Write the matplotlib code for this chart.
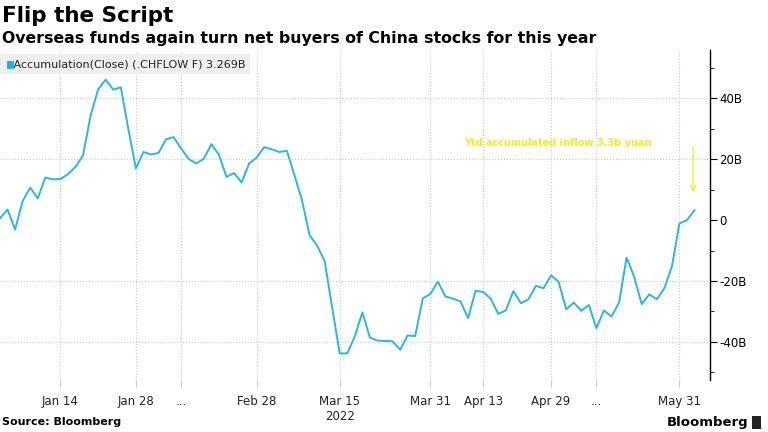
import numpy as np
import matplotlib.pyplot as plt
from matplotlib.ticker import FuncFormatter, MultipleLocator
from matplotlib.patches import Rectangle

# Northbound accumulated flow, one value per trading day (billions of yuan)
flow = [0.6, 3.5, -3.1, 6.3, 10.7, 7.1, 14.0, 13.4, 13.5, 15.1,
        17.5, 21.3, 34.4, 43.0, 46.2, 42.9, 43.7, 30.0, 17.0, 22.4,
        21.6, 22.1, 26.6, 27.3, 23.5, 20.1, 18.6, 20.2, 25.0, 21.5,
        14.2, 15.5, 12.4, 18.6, 20.6, 24.0, 23.3, 22.4, 22.8, 14.8,
        6.6, -4.9, -8.4, -13.4, -28.7, -43.8, -43.8, -38.2, -30.3, -38.6,
        -39.6, -39.7, -39.8, -42.6, -37.9, -38.1, -25.7, -24.3, -20.2, -25.1,
        -25.8, -26.7, -32.2, -23.2, -23.6, -25.8, -30.8, -29.7, -23.3, -27.3,
        -26.0, -21.6, -22.4, -18.1, -20.3, -29.3, -27.1, -29.8, -27.9, -35.5,
        -29.7, -31.7, -27.1, -12.3, -18.6, -27.6, -24.4, -26.0, -22.4, -15.3,
        -1.1, 0.0, 3.269]

tick_pos = [8, 18, 24, 34, 45, 57, 64, 73, 79, 90]
tick_labels = ['Jan 14', 'Jan 28', '...', 'Feb 28', 'Mar 15\n2022',
               'Mar 31', 'Apr 13', 'Apr 29', '...', 'May 31']
y_ticks = [-40, -20, 0, 20, 40]

line_color = '#2cb4e4'
ann_color = '#f2ec1c'

plt.rcParams['font.family'] = ['DejaVu Sans']

fig = plt.figure(figsize=(7.68, 4.32), dpi=100)
ax = fig.add_axes([0.0, 0.12, 0.924, 0.764])

x = np.arange(len(flow))
ax.plot(x, flow, color=line_color, linewidth=1.4)

ax.set_xlim(0, 94)
ax.set_ylim(-52.6, 55.9)

# x axis
ax.set_xticks(tick_pos)
ax.set_xticklabels(tick_labels, fontsize=8.5, color='#222222')
ax.tick_params(axis='x', length=5, color='#cccccc', pad=6)

# y axis on the right
ax.yaxis.tick_right()
ax.set_yticks(y_ticks)
ax.yaxis.set_minor_locator(MultipleLocator(10))
ax.yaxis.set_major_formatter(FuncFormatter(lambda v, p: '0' if v == 0 else f'{v:.0f}B'))
ax.tick_params(axis='y', which='major', length=5, color='black', labelsize=8.5, pad=2)
ax.tick_params(axis='y', which='minor', length=3, color='black')

for s in ['left', 'top', 'bottom']:
    ax.spines[s].set_visible(False)
ax.spines['right'].set_color('black')
ax.spines['right'].set_linewidth(1.0)

# dotted grid, no line at zero
ax.grid(True, which='major', linestyle=':', color='#c8c8c8', linewidth=0.8)
ax.yaxis.get_gridlines()[2].set_visible(False)
ax.set_axisbelow(True)

# legend box
ax.text(0.004, 0.972, '   Accumulation(Close) (.CHFLOW F) 3.269B', transform=ax.transAxes,
        fontsize=8, color='#222222', va='top', ha='left', zorder=5,
        bbox=dict(boxstyle='square,pad=0.45', facecolor='#efefef', edgecolor='none'))
ax.add_patch(Rectangle((0.010, 0.944), 0.010, 0.024, transform=ax.transAxes,
                       facecolor='#1eb4ec', edgecolor='none', zorder=6))

# annotation
ax.text(73.9, 25.2, 'Ytd accumulated inflow 3.3b yuan', color=ann_color,
        fontsize=7, fontweight='bold', ha='center', va='center')
ax.annotate('', xy=(91.8, 8.2), xytext=(91.8, 25.0),
            arrowprops=dict(arrowstyle='->', color=ann_color, lw=0.9))

# titles and footer
fig.text(0.002, 0.962, 'Flip the Script', fontsize=15.5, fontweight='bold', va='center')
fig.text(0.002, 0.91, 'Overseas funds again turn net buyers of China stocks for this year',
         fontsize=11.3, fontweight='bold', va='center')
fig.text(0.003, 0.022, 'Source: Bloomberg', fontsize=8, fontweight='bold', va='center')
fig.text(0.975, 0.022, 'Bloomberg', fontsize=9.5, fontweight='bold', va='center', ha='right')
fig.patches.append(Rectangle((0.979, 0.008), 0.012, 0.03, transform=fig.transFigure,
                             facecolor='#222222', edgecolor='none'))

fig.savefig('out.png', dpi=100)
